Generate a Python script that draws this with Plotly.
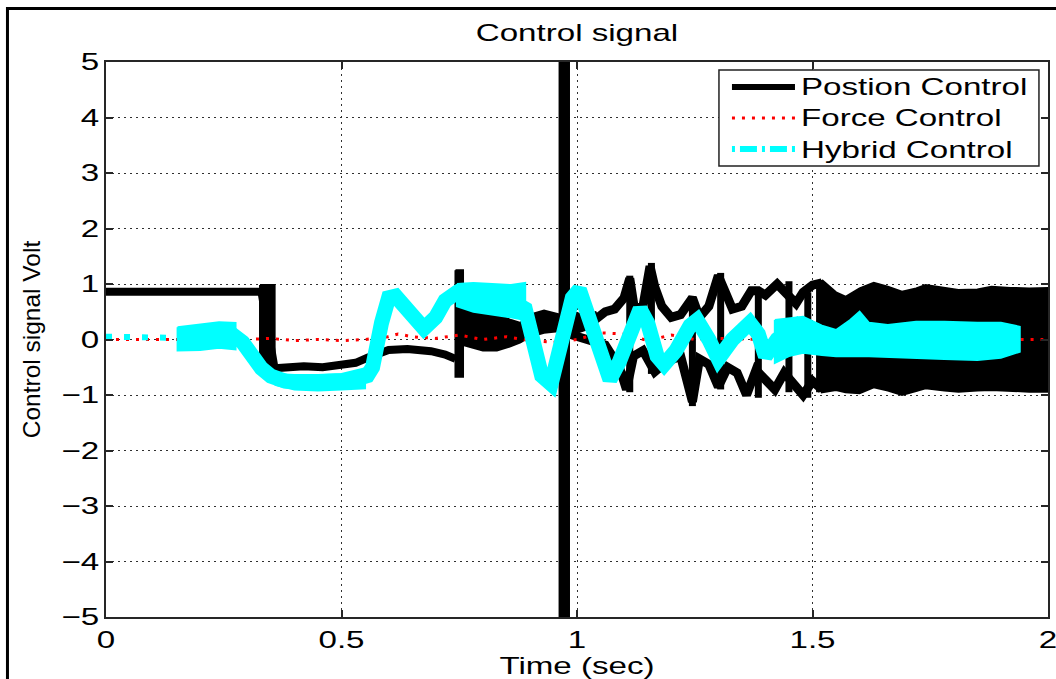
import plotly.graph_objects as go

# ---------------- axes ----------------
x_ticks = [0, 0.5, 1, 1.5, 2]
x_tick_text = ["0", "0.5", "1", "1.5", "2"]
y_ticks = [-5, -4, -3, -2, -1, 0, 1, 2, 3, 4, 5]

# ---------------- Position control (black) ----------------
# single-valued part of the signal (V)
pos_line_t = [0.000, 0.330, 0.358, 0.380, 0.420, 0.460, 0.500, 0.530, 0.555, 0.580, 0.600, 0.640, 0.690, 0.720, 0.742]
pos_line_v = [0.86, 0.86, -0.52, -0.50, -0.48, -0.50, -0.46, -0.42, -0.33, -0.25, -0.19, -0.17, -0.21, -0.27, -0.35]

# upper / lower excursions of the chattering part
pos_up_t = [0.983, 1.000, 1.030, 1.060, 1.080, 1.100, 1.112, 1.122, 1.140, 1.155, 1.165, 1.180, 1.200, 1.220,
            1.245, 1.260, 1.280, 1.300, 1.315, 1.330, 1.350, 1.370, 1.385, 1.400, 1.425, 1.445, 1.465, 1.480,
            1.500, 1.520]
pos_up_v = [0.35, 0.38, 0.30, 0.50, 0.55, 0.75, 1.10, 0.55, 0.60, 1.32, 0.95, 0.60, 0.40, 0.45,
            0.75, 0.40, 0.60, 1.15, 0.85, 0.55, 0.60, 0.88, 0.88, 0.80, 1.00, 0.80, 0.65, 0.85,
            0.98, 1.02]
pos_lo_t = [0.983, 1.020, 1.060, 1.090, 1.105, 1.120, 1.140, 1.165, 1.190, 1.220, 1.245, 1.260, 1.280,
            1.300, 1.320, 1.340, 1.360, 1.380, 1.400, 1.420, 1.440, 1.460, 1.480, 1.500, 1.520]
pos_lo_v = [0.10, 0.00, -0.10, -0.50, -0.90, -0.30, -0.20, -0.58, -0.40, -0.30, -1.12, -0.35, -0.45,
            -0.85, -0.50, -0.60, -1.00, -0.55, -0.70, -0.90, -0.60, -0.80, -1.00, -0.75, -0.90]

# switching bursts (vertical swings)
pos_burst_t = [1.112, 1.158, 1.245, 1.305, 1.385, 1.450, 1.490, 1.515]
pos_burst_lo = [-0.95, -0.62, -1.20, -0.90, -1.05, -0.95, -1.05, -0.95]
pos_burst_hi = [1.15, 1.38, 0.78, 1.20, 0.90, 1.05, 0.85, 1.07]

# filled envelope segments
pos_step_t, pos_step_hi, pos_step_lo = [0.327, 0.358], [0.98, 0.98], [-0.60, -0.67]
pos_kick_t, pos_kick_hi, pos_kick_lo = [0.742, 0.758], [1.25, 1.25], [-0.67, -0.67]
pos_decay_t = [0.758, 0.780, 0.800, 0.830, 0.860, 0.880, 0.900, 0.930, 0.963]
pos_decay_hi = [0.72, 0.62, 0.55, 0.45, 0.35, 0.30, 0.45, 0.52, 0.45]
pos_decay_lo = [-0.10, -0.15, -0.20, -0.20, -0.12, -0.05, 0.05, 0.12, 0.15]
pos_sat_t, pos_sat_hi, pos_sat_lo = [0.963, 0.983], [8.0, 8.0], [-8.0, -8.0]
pos_post_t, pos_post_hi, pos_post_lo = [0.983, 1.000, 1.020, 1.040], [0.45, 0.48, 0.40, 0.50], [0.10, 0.12, 0.18, 0.28]
pos_tail_t = [1.520, 1.550, 1.570, 1.600, 1.630, 1.660, 1.690, 1.720, 1.740, 1.780, 1.810, 1.850, 1.880,
              1.920, 1.960, 2.000]
pos_tail_hi = [1.07, 0.85, 0.77, 0.92, 1.02, 0.95, 0.86, 0.92, 0.98, 0.93, 0.89, 0.90, 0.95, 0.93, 0.92, 0.93]
pos_tail_lo = [-0.95, -0.91, -0.95, -0.97, -0.86, -0.92, -1.00, -0.93, -0.88, -0.92, -0.94, -0.92, -0.91,
               -0.93, -0.94, -0.94]

# ---------------- Force control (red) ----------------
force_t = [0.00, 0.10, 0.20, 0.30, 0.35, 0.40, 0.45, 0.50, 0.55, 0.60, 0.62, 0.65, 0.70, 0.75, 0.80, 0.85,
           0.90, 0.95, 1.00, 1.05, 1.10, 1.15, 1.20, 1.25, 1.30, 1.40, 1.50, 1.60, 1.70, 1.80, 1.90, 1.99]
force_v = [0.00, 0.00, 0.00, 0.00, 0.02, -0.02, 0.00, -0.02, 0.00, 0.05, 0.10, 0.05, 0.02, 0.08, 0.00, 0.05,
           -0.02, -0.05, 0.00, 0.12, 0.10, -0.02, 0.08, 0.00, 0.02, 0.00, 0.00, 0.00, 0.00, 0.00, 0.00, 0.00]

# ---------------- Hybrid control (cyan) ----------------
hyb_t = [0.000, 0.152, 0.200, 0.240, 0.270, 0.290, 0.310, 0.330, 0.350, 0.380, 0.420, 0.470, 0.520, 0.555,
         0.566, 0.585, 0.600, 0.615, 0.635, 0.660, 0.675, 0.700, 0.720, 0.745, 0.800, 0.860, 0.890, 0.905,
         0.925, 0.945, 0.965, 0.990, 1.005, 1.025, 1.050, 1.070, 1.090, 1.115, 1.134, 1.150, 1.170, 1.185,
         1.210, 1.240, 1.255, 1.280, 1.300, 1.330, 1.367, 1.385, 1.400, 1.425, 1.467, 1.500]
hyb_v = [0.05, 0.03, 0.05, 0.08, 0.08, -0.05, -0.30, -0.52, -0.66, -0.75, -0.77, -0.77, -0.74, -0.65,
         -0.50, 0.30, 0.75, 0.78, 0.55, 0.30, 0.20, 0.40, 0.70, 0.85, 0.75, 0.70, 0.55, 0.00,
         -0.65, -0.80, -0.10, 0.75, 0.90, 0.40, -0.40, -0.72, -0.40, 0.20, 0.55, 0.30, -0.30, -0.45,
         -0.20, 0.25, 0.35, 0.00, -0.35, 0.00, 0.30, 0.10, -0.30, 0.00, 0.25, 0.00]

hyb_a_t, hyb_a_hi, hyb_a_lo = [0.152, 0.200, 0.240, 0.275], [0.22, 0.27, 0.31, 0.30], [-0.20, -0.19, -0.15, -0.18]
hyb_b_t = [0.360, 0.400, 0.450, 0.500, 0.550]
hyb_b_hi = [-0.62, -0.64, -0.64, -0.62, -0.52]
hyb_b_lo = [-0.82, -0.90, -0.92, -0.90, -0.88]
hyb_c_t = [0.745, 0.780, 0.820, 0.860, 0.890]
hyb_c_hi = [1.00, 1.02, 1.00, 0.98, 1.02]
hyb_c_lo = [0.60, 0.50, 0.45, 0.40, 0.35]
hyb_d_t = [1.420, 1.450, 1.480, 1.520, 1.550, 1.580, 1.600, 1.620, 1.660, 1.720, 1.780, 1.850, 1.900, 1.940]
hyb_d_hi = [0.35, 0.38, 0.41, 0.25, 0.17, 0.35, 0.50, 0.30, 0.26, 0.32, 0.32, 0.30, 0.30, 0.23]
hyb_d_lo = [-0.42, -0.30, -0.24, -0.28, -0.30, -0.30, -0.30, -0.30, -0.30, -0.33, -0.35, -0.37, -0.33, -0.22]

series_names = ["Postion Control", "Force Control", "Hybrid Control"]

BLACK, RED, CYAN = "#000000", "#ff0000", "#00ffff"


def envelopes(segments):
    """Closed polygons (separated by None) spanning hi..lo for each segment."""
    xs, ys = [], []
    for t, hi, lo in segments:
        xs += list(t) + list(t[::-1]) + [t[0], None]
        ys += list(hi) + list(lo[::-1]) + [hi[0], None]
    return xs, ys


def verticals(t, lo, hi):
    xs, ys = [], []
    for ti, a, b in zip(t, lo, hi):
        xs += [ti, ti, None]
        ys += [a, b, None]
    return xs, ys


fig = go.Figure()

# --- position control
px, py = envelopes([(pos_step_t, pos_step_hi, pos_step_lo),
                    (pos_kick_t, pos_kick_hi, pos_kick_lo),
                    (pos_decay_t, pos_decay_hi, pos_decay_lo),
                    (pos_sat_t, pos_sat_hi, pos_sat_lo),
                    (pos_post_t, pos_post_hi, pos_post_lo),
                    (pos_tail_t, pos_tail_hi, pos_tail_lo)])
fig.add_trace(go.Scatter(x=px, y=py, mode="lines", fill="toself", fillcolor=BLACK,
                         line=dict(color=BLACK, width=2), hoverinfo="skip", showlegend=False))
fig.add_trace(go.Scatter(x=pos_line_t, y=pos_line_v, mode="lines", line=dict(color=BLACK, width=8),
                         name=series_names[0], showlegend=False))
fig.add_trace(go.Scatter(x=pos_up_t, y=pos_up_v, mode="lines", line=dict(color=BLACK, width=9),
                         showlegend=False))
fig.add_trace(go.Scatter(x=pos_lo_t, y=pos_lo_v, mode="lines", line=dict(color=BLACK, width=9),
                         showlegend=False))
bx, by = verticals(pos_burst_t, pos_burst_lo, pos_burst_hi)
fig.add_trace(go.Scatter(x=bx, y=by, mode="lines", line=dict(color=BLACK, width=7), showlegend=False))

# --- force control
fig.add_trace(go.Scatter(x=force_t, y=force_v, mode="lines",
                         line=dict(color=RED, width=3, dash="3px,7px"),
                         name=series_names[1], showlegend=False))

# --- hybrid control
hx, hy = envelopes([(hyb_a_t, hyb_a_hi, hyb_a_lo), (hyb_b_t, hyb_b_hi, hyb_b_lo),
                    (hyb_c_t, hyb_c_hi, hyb_c_lo), (hyb_d_t, hyb_d_hi, hyb_d_lo)])
fig.add_trace(go.Scatter(x=hx, y=hy, mode="lines", fill="toself", fillcolor=CYAN,
                         line=dict(color=CYAN, width=2), hoverinfo="skip", showlegend=False))
fig.add_trace(go.Scatter(x=hyb_t[1:], y=hyb_v[1:], mode="lines", line=dict(color=CYAN, width=15),
                         showlegend=False))
fig.add_trace(go.Scatter(x=hyb_t[:2], y=hyb_v[:2], mode="lines",
                         line=dict(color=CYAN, width=6, dash="6px,12px"),
                         name=series_names[2], showlegend=False))

# ---------------- legend box (paper coordinates) ----------------
leg_x0, leg_x1, leg_y0, leg_y1 = 0.6507, 0.9904, 0.8126, 0.9856
row_y = [0.955, 0.8991, 0.8432]
smp_x0, smp_x1, txt_x = 0.6645, 0.7314, 0.7357
shapes = [
    # outer figure frame
    dict(type="rect", xref="paper", yref="paper", x0=-0.1046, x1=1.03, y0=-0.15, y1=1.0964,
         line=dict(color="black", width=3), fillcolor="rgba(0,0,0,0)", layer="above"),
    dict(type="rect", xref="paper", yref="paper", x0=leg_x0, x1=leg_x1, y0=leg_y0, y1=leg_y1,
         line=dict(color="#222222", width=1.5), fillcolor="white", layer="above"),
]
legend_styles = [dict(color=BLACK, width=6), dict(color=RED, width=3, dash="3px,7px"),
                 dict(color=CYAN, width=6, dash="3px,5px,17px,5px")]
annotations = []
for name, yy, st in zip(series_names, row_y, legend_styles):
    shapes.append(dict(type="line", xref="paper", yref="paper", x0=smp_x0, x1=smp_x1, y0=yy, y1=yy,
                       line=st, layer="above"))
    annotations.append(dict(text=name, xref="paper", yref="paper", x=txt_x, y=yy, xanchor="left",
                            yanchor="middle", align="left", showarrow=False,
                            font=dict(size=24, color="black")))

FONT = "Liberation Sans, Arial, Helvetica, sans-serif"
axis_common = dict(showline=True, linecolor="#262626", linewidth=2, mirror="ticks", ticks="inside",
                   ticklen=7, tickwidth=1.5, tickcolor="#262626", showgrid=True, gridcolor="#303030",
                   gridwidth=1, griddash="2px,4px", zeroline=False, automargin=False,
                   tickfont=dict(size=24, color="black", family=FONT))

fig.update_layout(
    template="none",
    width=1056, height=679, autosize=False,
    margin=dict(l=106, r=8, t=62, b=62, pad=0),
    paper_bgcolor="white", plot_bgcolor="white",
    font=dict(family=FONT, color="black"),
    showlegend=False,
    title=dict(text="Control signal", x=0.5, xref="paper", xanchor="center",
               y=1 - 33 / 679, yref="container", yanchor="middle", font=dict(size=24, color="black")),
    xaxis=dict(range=[0, 2], tickvals=x_ticks, ticktext=x_tick_text,
               title=dict(text="Time (sec)", font=dict(size=24, color="black"), standoff=4),
               **axis_common),
    yaxis=dict(range=[-5, 5], tickvals=y_ticks,
               title=dict(text="Control signal Volt", font=dict(size=24.5, color="black"), standoff=24),
               **axis_common),
    shapes=shapes,
    annotations=annotations,
)

# widen the horizontal lettering (wide screen font of the original figure)
widen_text = """
var gd = document.getElementById('{plot_id}');
var S = 1.38;
gd.querySelectorAll('svg text').forEach(function (el) {
  if (el.closest('.g-ytitle')) return;
  if (!el.textContent || !el.textContent.trim()) return;
  var bb = el.getBBox();
  var anc = el.getAttribute('text-anchor') || window.getComputedStyle(el).textAnchor || 'start';
  var lx = anc === 'end' ? bb.x + bb.width : (anc === 'middle' ? bb.x + bb.width / 2 : bb.x);
  var ly = bb.y + bb.height / 2;
  var px = lx, py = ly;
  var prev = el.getAttribute('transform') || '';
  var tl = el.transform.baseVal;
  if (tl.numberOfItems) {
    var m = tl.consolidate().matrix;
    px = m.a * lx + m.c * ly + m.e;
    py = m.b * lx + m.d * ly + m.f;
  }
  el.setAttribute('transform', 'translate(' + px + ',' + py + ') scale(' + S + ',1) translate(' +
                  (-px) + ',' + (-py) + ') ' + prev);
});
"""

fig.write_html("out.html", config={"displayModeBar": False}, post_script=widen_text)
